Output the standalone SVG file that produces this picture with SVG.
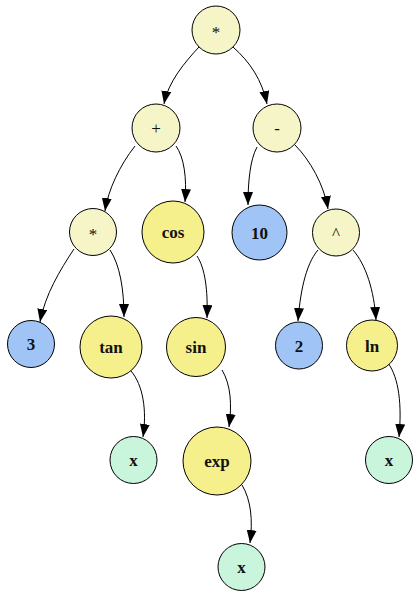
<svg xmlns="http://www.w3.org/2000/svg" width="420" height="597" viewBox="0 0 420 597">
  <style>
    .node circle { stroke: #000; stroke-width: 1; }
    .op circle { fill: #f5f5c8; }
    .fn circle { fill: #f5f08c; }
    .num circle { fill: #a0c4f5; }
    .var circle { fill: #c8f5dc; }
    .node text { font-size: 17px; font-weight: bold; fill: #111; text-anchor: middle; }
    .op text { font-weight: normal; }
    .edges path { fill: none; stroke: #000; stroke-width: 1; }
  </style>
  <defs>
    <marker id="arrow" viewBox="0 0 13 10" refX="13" refY="5" markerWidth="13" markerHeight="10" markerUnits="userSpaceOnUse" orient="auto">
      <path d="M0,0 L13,5 L0,10 Z" fill="#000"/>
    </marker>
  </defs>

  <rect width="420" height="597" fill="#fff"/>

  <!-- connectors -->
  <g class="edges">
    <path d="M199,47 C185,62 168,82 164,104" marker-end="url(#arrow)"/>
    <path d="M233,47 C250,62 262,80 267,104" marker-end="url(#arrow)"/>
    <path d="M135,146 C120,165 108,190 105,211" marker-end="url(#arrow)"/>
    <path d="M176,146 C184,157 187,178 185,202" marker-end="url(#arrow)"/>
    <path d="M257,147 C250,160 248,182 248,205" marker-end="url(#arrow)"/>
    <path d="M295,145 C310,160 324,185 328,209" marker-end="url(#arrow)"/>
    <path d="M74,249 C60,270 45,295 40,322" marker-end="url(#arrow)"/>
    <path d="M110,250 C120,265 124,290 124,317" marker-end="url(#arrow)"/>
    <path d="M197,256 C205,268 208,290 207,318" marker-end="url(#arrow)"/>
    <path d="M318,250 C305,265 300,295 298,321" marker-end="url(#arrow)"/>
    <path d="M353,250 C366,265 374,290 376,320" marker-end="url(#arrow)"/>
    <path d="M131,371 C143,385 147,410 143,437" marker-end="url(#arrow)"/>
    <path d="M222,370 C231,385 232,405 229,427" marker-end="url(#arrow)"/>
    <path d="M242,485 C251,500 253,520 250,543" marker-end="url(#arrow)"/>
    <path d="M388,363 C399,378 402,405 399,437" marker-end="url(#arrow)"/>
  </g>

  <!-- nodes; labels are baseline-placed about 6px below centre -->
  <g font-family="'Liberation Serif', 'Times New Roman', serif">
    <g id="n-mul-root" class="node op"><circle cx="216" cy="30" r="24"/><text x="216" y="38">*</text></g>
    <g id="n-add" class="node op"><circle cx="156" cy="128" r="24"/><text x="156" y="134">+</text></g>
    <g id="n-sub" class="node op"><circle cx="277" cy="128" r="24"/><text x="277" y="134">-</text></g>
    <g id="n-mul" class="node op"><circle cx="93" cy="232" r="23.5"/><text x="93" y="240">*</text></g>
    <g id="n-cos" class="node fn"><circle cx="173" cy="232" r="31"/><text x="173" y="238">cos</text></g>
    <g id="n-10" class="node num"><circle cx="259.5" cy="232.5" r="27.5"/><text x="259.5" y="238.5">10</text></g>
    <g id="n-pow" class="node op"><circle cx="336" cy="232.5" r="23.5"/><text x="336" y="238.5">^</text></g>
    <g id="n-3" class="node num"><circle cx="31" cy="344" r="23.5"/><text x="31" y="350">3</text></g>
    <g id="n-tan" class="node fn"><circle cx="111" cy="347" r="31"/><text x="111" y="353">tan</text></g>
    <g id="n-sin" class="node fn"><circle cx="196" cy="347" r="29.5"/><text x="196" y="353">sin</text></g>
    <g id="n-2" class="node num"><circle cx="299" cy="345.5" r="23.5"/><text x="299" y="351.5">2</text></g>
    <g id="n-ln" class="node fn"><circle cx="372" cy="345.5" r="25.5"/><text x="372" y="351.5">ln</text></g>
    <g id="n-x-tan" class="node var"><circle cx="133.5" cy="460" r="23.5"/><text x="133.5" y="466">x</text></g>
    <g id="n-exp" class="node fn"><circle cx="217" cy="461" r="34"/><text x="217" y="467">exp</text></g>
    <g id="n-x-ln" class="node var"><circle cx="389" cy="460" r="23.5"/><text x="389" y="466">x</text></g>
    <g id="n-x-exp" class="node var"><circle cx="241.5" cy="567" r="23.5"/><text x="241.5" y="573">x</text></g>
  </g>
</svg>
